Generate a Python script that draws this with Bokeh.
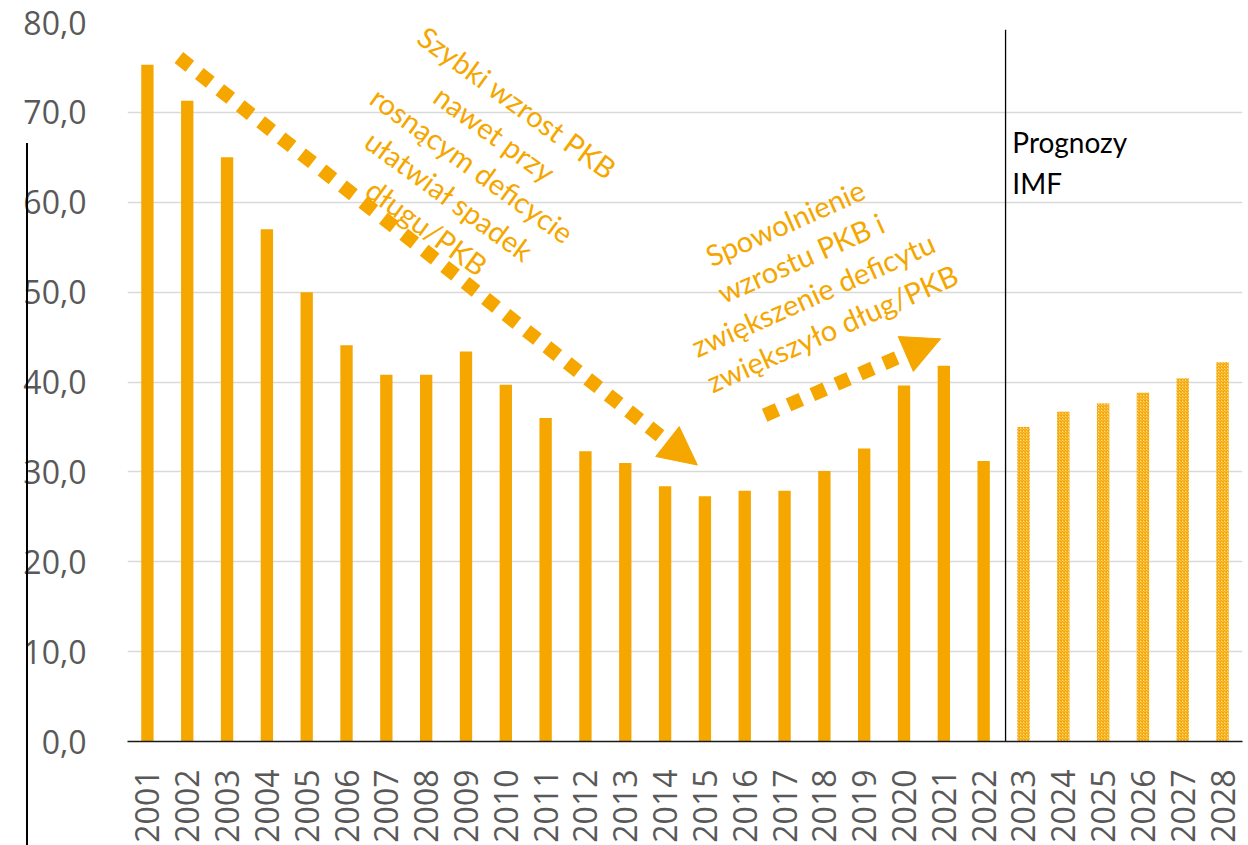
from bokeh.plotting import figure
from bokeh.models import Range1d, FixedTicker, Arrow, NormalHead, ColumnDataSource, Div
from bokeh.layouts import column
from bokeh.core.properties import value
from bokeh.embed import file_html
from bokeh.resources import INLINE
import math

# ---- data ----
years = list(range(2001, 2029))
hist_years = years[:22]
hist_values = [75.3, 71.3, 65.0, 57.0, 50.0, 44.1, 40.8, 40.8, 43.4, 39.7, 36.0,
               32.3, 31.0, 28.4, 27.3, 27.9, 27.9, 30.1, 32.6, 39.6, 41.8, 31.2]
forecast_years = years[22:]
forecast_values = [35.0, 36.7, 37.6, 38.8, 40.4, 42.2]
y_ticks = [0, 10, 20, 30, 40, 50, 60, 70, 80]
y_tick_labels = ["0,0", "10,0", "20,0", "30,0", "40,0", "50,0", "60,0", "70,0", "80,0"]
year_labels = [str(y) for y in years]

note1 = "Szybki wzrost PKB\nnawet przy\nrosnącym deficycie\nułatwiał spadek\ndługu/PKB"
note2 = "Spowolnienie\nwzrostu PKB i\nzwiększenie  deficytu\nzwiększyło dług/PKB"
forecast_note = "Prognozy\nIMF"

ORANGE = "#F5A700"
GRAY = "#595959"

p = figure(width=1248, height=845, output_backend="svg", toolbar_location=None,
           x_range=Range1d(2000.5, 2028.5), y_range=Range1d(0, 80),
           min_border_left=127, min_border_right=6, min_border_top=22, min_border_bottom=100)
p.outline_line_color = None
p.background_fill_color = "white"
p.border_fill_color = "white"

# bars
p.vbar(x=hist_years, top=hist_values, bottom=0, width=0.31,
       fill_color=ORANGE, line_color=None)
p.vbar(x=forecast_years, top=forecast_values, bottom=0, width=0.31,
       fill_color="#FBD88A", line_color=None,
       hatch_pattern="diagonal_cross", hatch_color=ORANGE, hatch_scale=3, hatch_weight=1.5)

# forecast separator
split_x = 2022.55
p.segment(x0=[split_x], y0=[-0.4], x1=[split_x], y1=[79.2], line_color="black", line_width=1.3)

# axes
p.xaxis.ticker = FixedTicker(ticks=years)
p.xaxis.major_label_overrides = {y: l for y, l in zip(years, year_labels)}
p.xaxis.major_label_orientation = math.pi / 2
p.xaxis.major_label_text_font = "Open Sans"
p.xaxis.major_label_text_font_size = "32px"
p.xaxis.major_label_text_color = GRAY
p.xaxis.major_label_standoff = 22
p.xaxis.major_tick_line_color = None
p.xaxis.minor_tick_line_color = None
p.xaxis.axis_line_color = "#1a1a1a"
p.xaxis.axis_line_width = 1.6

p.yaxis.ticker = FixedTicker(ticks=y_ticks)
p.yaxis.major_label_overrides = {t: l for t, l in zip(y_ticks, y_tick_labels)}
p.yaxis.major_label_text_font = "Open Sans"
p.yaxis.major_label_text_font_size = "32px"
p.yaxis.major_label_text_color = GRAY
p.yaxis.major_label_standoff = 35
p.yaxis.major_tick_line_color = None
p.yaxis.minor_tick_line_color = None
p.yaxis.axis_line_color = None

p.xgrid.grid_line_color = None
p.ygrid.grid_line_color = "#D9D9D9"
p.ygrid.grid_line_width = 1.5

# annotations text
notes = ColumnDataSource(dict(x=[2009.16, 2017.6], y=[64.2, 51.9], text=[note1, note2],
                              angle=[-36 * math.pi / 180, 24 * math.pi / 180]))
p.text(x="x", y="y", text="text", angle="angle", source=notes,
       text_font=value("Lato"), text_font_size="29px", text_color=ORANGE,
       text_align="center", text_baseline="middle", text_line_height=1.1)

p.text(x=[2022.72], y=[64.4], text=[forecast_note], text_font=value("Lato"),
       text_font_size="28px", text_color="black", text_align="left",
       text_baseline="middle", text_line_height=1.19)

# dotted arrows
p.add_layout(Arrow(x_start=2001.79, y_start=76.1, x_end=2014.81, y_end=30.76,
                   line_color=ORANGE, line_width=14, line_dash="14 12", line_cap="butt",
                   end=NormalHead(size=38, fill_color=ORANGE, line_color=ORANGE)))
p.add_layout(Arrow(x_start=2016.5, y_start=36.3, x_end=2020.92, y_end=44.8,
                   line_color=ORANGE, line_width=14, line_dash="14 12", line_cap="butt",
                   end=NormalHead(size=38, fill_color=ORANGE, line_color=ORANGE)))

# thin frame line at the left edge of the picture, overlaid on the figure
edge = Div(width=2, height=702, margin=(-702, 0, 0, 26), text="",
           styles={"background-color": "#000"})

layout = column(p, edge, spacing=0)
open("out.html", "w").write(file_html(layout, INLINE))
